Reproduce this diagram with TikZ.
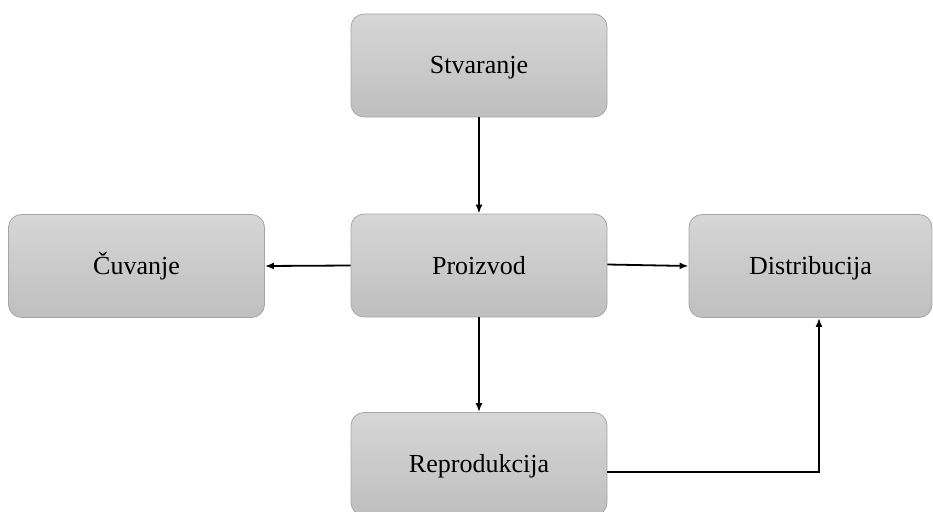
\documentclass[tikz,border=0pt]{standalone}
\usepackage{fontspec}
\setmainfont{Liberation Serif}
\usetikzlibrary{arrows.meta}
\definecolor{boxtop}{HTML}{D6D6D6}
\definecolor{boxbot}{HTML}{BFBFBF}
\definecolor{boxedge}{HTML}{A6A6A6}
\tikzset{
  box/.style={draw=boxedge, line width=0.8pt, rounded corners=13pt, top color=boxtop, bottom color=boxbot,
    minimum width=256pt, minimum height=103pt, inner sep=0pt, text height=23pt, text depth=6pt,
    font=\fontsize{26}{30}\selectfont},
  conn/.style={line width=1.8pt, -{Latex[length=9pt,width=7pt]}}
}
\begin{document}
\begin{tikzpicture}[x=1pt,y=-1pt]
\useasboundingbox (0,0) rectangle (933,511);
\node[box] (s) at (479,65.5) {Stvaranje};
\node[box] (p) at (479,265.5) {Proizvod};
\node[box] (c) at (136.5,266) {Čuvanje};
\node[box, minimum width=243pt] (d) at (810.5,266) {Distribucija};
\node[box] (r) at (479,464) {Reprodukcija};
\draw[conn] (s.south) -- (p.north);
\draw[conn] (p.west) -- (c.east);
\draw[conn] ([yshift=1pt]p.east) -- ([yshift=0pt]d.west);
\draw[conn] (p.south) -- (r.north);
\coordinate (k) at (819,472);
\draw[conn] ([yshift=-8pt]r.east) -- (k) -- (k |- d.south);
\end{tikzpicture}
\end{document}
